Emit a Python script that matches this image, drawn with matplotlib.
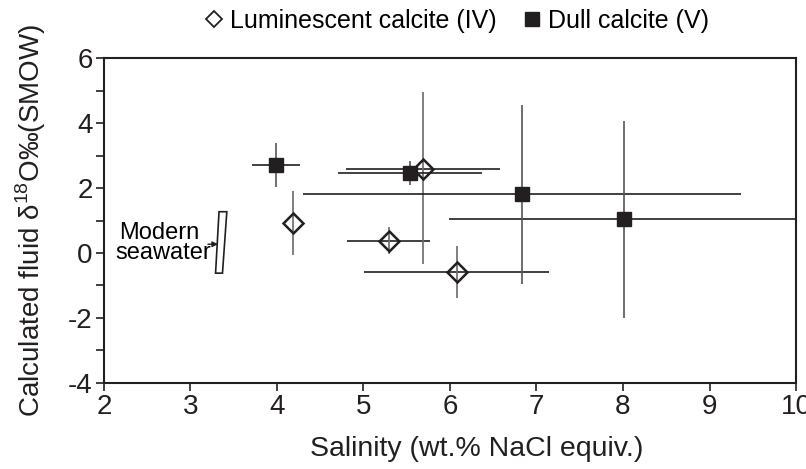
import numpy as np
import matplotlib.pyplot as plt
from matplotlib.patches import Polygon
from matplotlib.lines import Line2D

plt.rcParams['font.family'] = ['Liberation Sans', 'DejaVu Sans']
plt.rcParams['mathtext.fontset'] = 'custom'
plt.rcParams['mathtext.rm'] = 'Liberation Sans'
plt.rcParams['axes.unicode_minus'] = False

# Luminescent calcite (IV)
lum_x = [4.19, 5.29, 5.69, 6.08]
lum_y = [0.93, 0.38, 2.58, -0.57]
lum_xerr = [0.0, 0.48, 0.89, 1.07]
lum_yerr_lo = [0.98, 0.42, 2.92, 0.80]
lum_yerr_hi = [0.98, 0.42, 2.38, 0.80]

# Dull calcite (V)
dull_x = [3.99, 5.54, 6.83, 8.01]
dull_y = [2.70, 2.45, 1.81, 1.04]
dull_xerr = [0.28, 0.83, 2.53, 2.02]
dull_yerr = [0.67, 0.37, 2.75, 3.03]

# modern seawater box (corners)
sw_x = [3.33, 3.42, 3.37, 3.29]
sw_y = [1.27, 1.27, -0.62, -0.62]

xticks = [2, 3, 4, 5, 6, 7, 8, 9, 10]
yticks = [-4, -2, 0, 2, 4, 6]

fig = plt.figure(figsize=(8.06, 4.69), dpi=100)
ax = fig.add_axes([0.129, 0.1834, 0.8586, 0.6929])

ink = '#231f20'
# error bars, x black, y slightly grey
ax.errorbar(lum_x, lum_y, xerr=lum_xerr, fmt='none', ecolor=ink, elinewidth=1.2, capsize=0)
ax.errorbar(lum_x, lum_y, yerr=[lum_yerr_lo, lum_yerr_hi], fmt='none', ecolor='#6a6a6a', elinewidth=1.2, capsize=0)
ax.errorbar(dull_x, dull_y, xerr=dull_xerr, fmt='none', ecolor=ink, elinewidth=1.2, capsize=0)
ax.errorbar(dull_x, dull_y, yerr=dull_yerr, fmt='none', ecolor='#555555', elinewidth=1.2, capsize=0)

ax.plot(lum_x, lum_y, 'D', ms=10, mfc='none', mec=ink, mew=1.8, ls='none', zorder=5)
ax.plot(dull_x, dull_y, 's', ms=9.5, mfc=ink, mec=ink, ls='none', zorder=5)

ax.add_patch(Polygon(list(zip(sw_x, sw_y)), closed=True, fill=False, ec=ink, lw=1.2))
ax.text(2.64, 0.62, 'Modern', ha='center', va='center', fontsize=17)
ax.text(2.68, 0.0, 'seawater', ha='center', va='center', fontsize=17)
ax.annotate('', xy=(3.35, 0.27), xytext=(3.17, 0.27),
            arrowprops=dict(arrowstyle='-|>', color=ink, lw=1.0, mutation_scale=8))

ax.set_xlim(2, 10)
ax.set_ylim(-4, 6)
ax.set_xticks(xticks)
ax.set_yticks(yticks)
ax.set_yticks(np.arange(-3, 6, 2), minor=True)
ax.tick_params(which='both', direction='out', length=6, width=1.2, labelsize=20, pad=2, colors=ink)
for s in ax.spines.values():
    s.set_linewidth(1.5)
    s.set_color(ink)

ax.set_xlabel('Salinity (wt.% NaCl equiv.)', fontsize=20.5, color=ink)
ax.set_ylabel('Calculated fluid δ$^{18}$O‰(SMOW)', fontsize=20, color=ink)
ax.xaxis.set_label_coords(0.538, -0.163)
ax.yaxis.set_label_coords(-0.081, 0.5)

handles = [Line2D([], [], marker='D', ms=8.5, mfc='none', mec=ink, mew=1.3, ls='none'),
           Line2D([], [], marker='s', ms=10, mfc=ink, mec=ink, ls='none')]
fig.legend(handles, ['Luminescent calcite (IV)', 'Dull calcite (V)'], loc='center',
           bbox_to_anchor=(0.566, 0.955), ncol=2, frameon=False, fontsize=18,
           handletextpad=0.25, columnspacing=1.0, handlelength=0.8)

fig.savefig('out.png', dpi=100)
